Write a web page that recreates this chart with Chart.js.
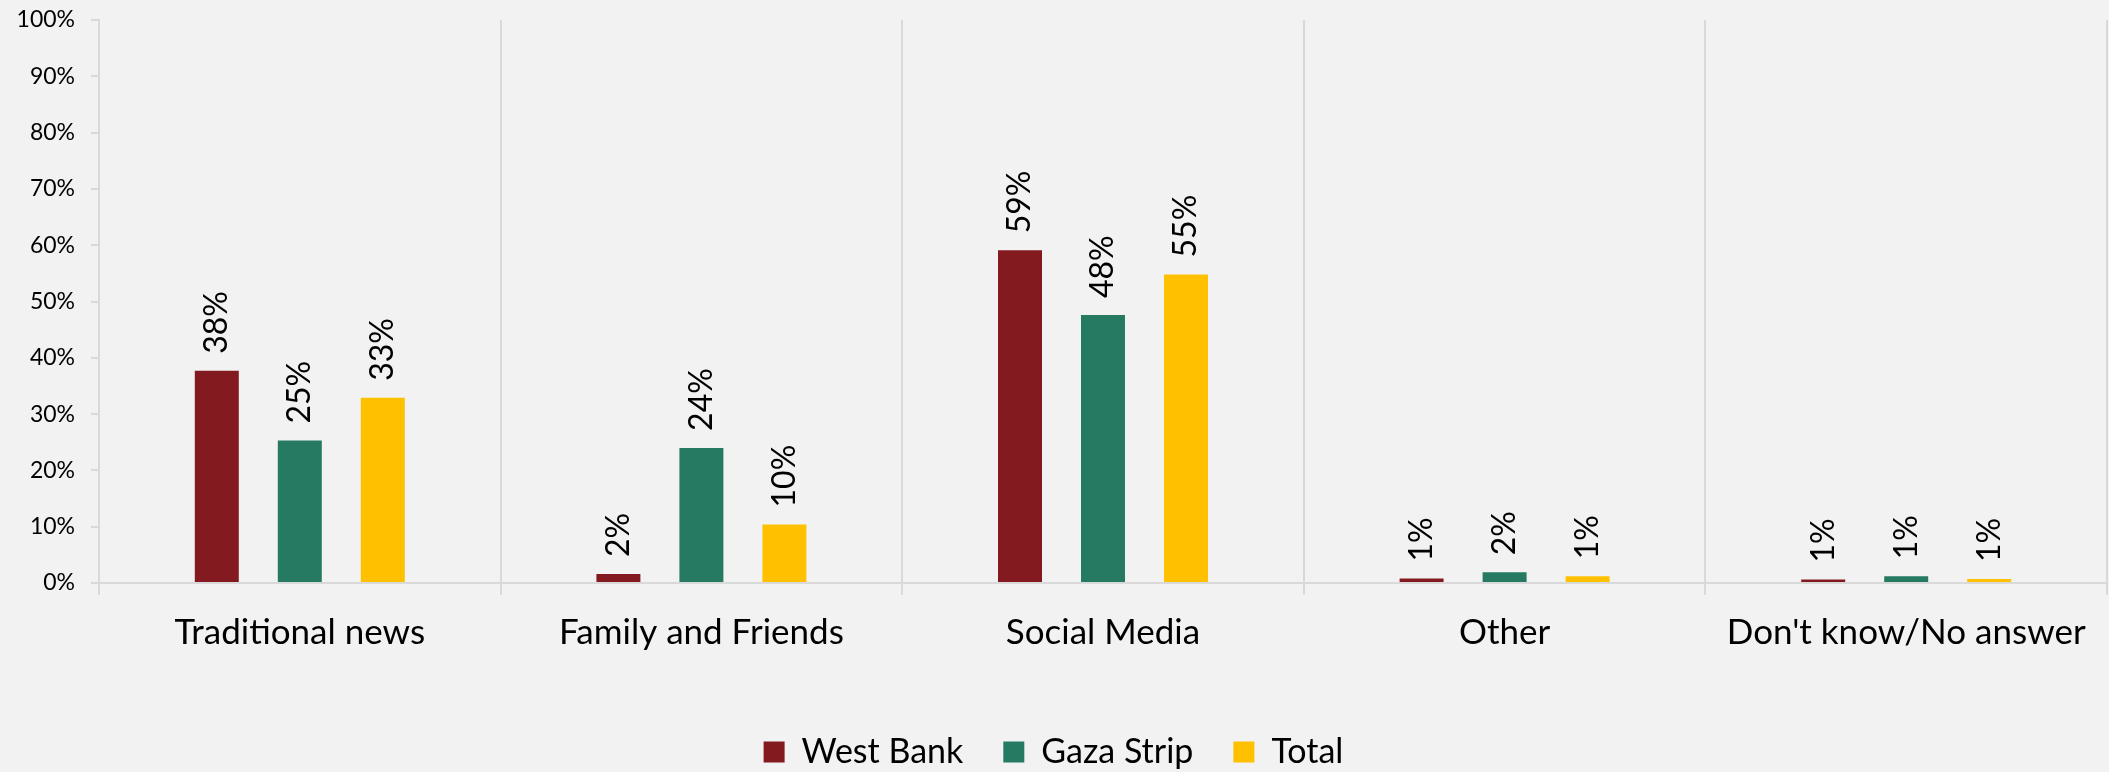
<!DOCTYPE html>
<html>
<head>
<meta charset="utf-8">
<script src="https://cdn.jsdelivr.net/npm/chart.js@4/dist/chart.umd.min.js"></script>
<style>
	html, body { margin: 0; padding: 0; background: #f2f2f2; }
	#wrap { width: 2109px; height: 772px; }
</style>
</head>
<body>
<div id="wrap"><canvas id="canvas"></canvas></div>
<script>
const categories = ['Traditional news', 'Family and Friends', 'Social Media', 'Other', "Don't know/No answer"];
const westBank = [37.7, 1.6, 59.1, 0.8, 0.6];
const gazaStrip = [25.3, 24.0, 47.6, 1.9, 1.2];
const total = [32.9, 10.4, 54.8, 1.2, 0.7];
const yTicks = [0, 10, 20, 30, 40, 50, 60, 70, 80, 90, 100];

const gridColor = '#d9d9d9';
const fontFamily = 'Lato, "Open Sans", sans-serif';

// rotated value labels above each bar
const barLabels = {
	id: 'barLabels',
	afterDatasetsDraw(chart) {
		const ctx = chart.ctx;
		ctx.save();
		ctx.font = '32px ' + fontFamily;
		ctx.fillStyle = '#000';
		ctx.textAlign = 'left';
		ctx.textBaseline = 'middle';
		chart.data.datasets.forEach(function(ds, i) {
			chart.getDatasetMeta(i).data.forEach(function(bar, j) {
				ctx.save();
				ctx.translate(bar.x, bar.y - 17);
				ctx.rotate(-Math.PI / 2);
				ctx.fillText(Math.round(ds.data[j]) + '%', 0, 0);
				ctx.restore();
			});
		});
		ctx.restore();
	}
};

window.onload = function() {
	var ctx = document.getElementById('canvas').getContext('2d');
	window.myBar = new Chart(ctx, {
		type: 'bar',
		data: {
			labels: categories,
			datasets: [{
				label: 'West Bank',
				backgroundColor: '#831a1f',
				data: westBank
			}, {
				label: 'Gaza Strip',
				backgroundColor: '#267a62',
				data: gazaStrip
			}, {
				label: 'Total',
				backgroundColor: '#ffc000',
				data: total
			}]
		},
		options: {
			responsive: true,
			maintainAspectRatio: false,
			animation: false,
			categoryPercentage: 0.62,
			barPercentage: 0.53,
			layout: { padding: { top: 20, right: 2, left: 0, bottom: -7 } },
			plugins: {
				tooltip: { enabled: false },
				legend: {
					position: 'bottom',
					labels: {
						color: '#000',
						font: { size: 34, family: fontFamily },
						boxWidth: 21,
						boxHeight: 21,
						padding: 40
					}
				}
			},
			scales: {
				x: {
					grid: {
						color: gridColor,
						lineWidth: 2,
						tickLength: 12,
						offset: true
					},
					border: { color: gridColor, width: 2 },
					ticks: {
						color: '#000',
						font: { size: 35, family: fontFamily },
						padding: 17,
						maxRotation: 0
					},
					afterFit(scale) { scale.height = 112; }
				},
				y: {
					min: 0,
					max: 100,
					afterBuildTicks(scale) { scale.ticks = yTicks.map(v => ({ value: v })); },
					grid: {
						drawOnChartArea: false,
						color: gridColor,
						lineWidth: 2,
						tickLength: 8
					},
					border: { color: gridColor, width: 2 },
					ticks: {
						color: '#000',
						font: { size: 23, family: fontFamily },
						padding: 16,
						callback: v => v + '%'
					},
					afterFit(scale) {
						scale.width = 99;
						scale.paddingTop = 0;
					}
				}
			}
		},
		plugins: [barLabels]
	});
};
</script>
</body>
</html>
